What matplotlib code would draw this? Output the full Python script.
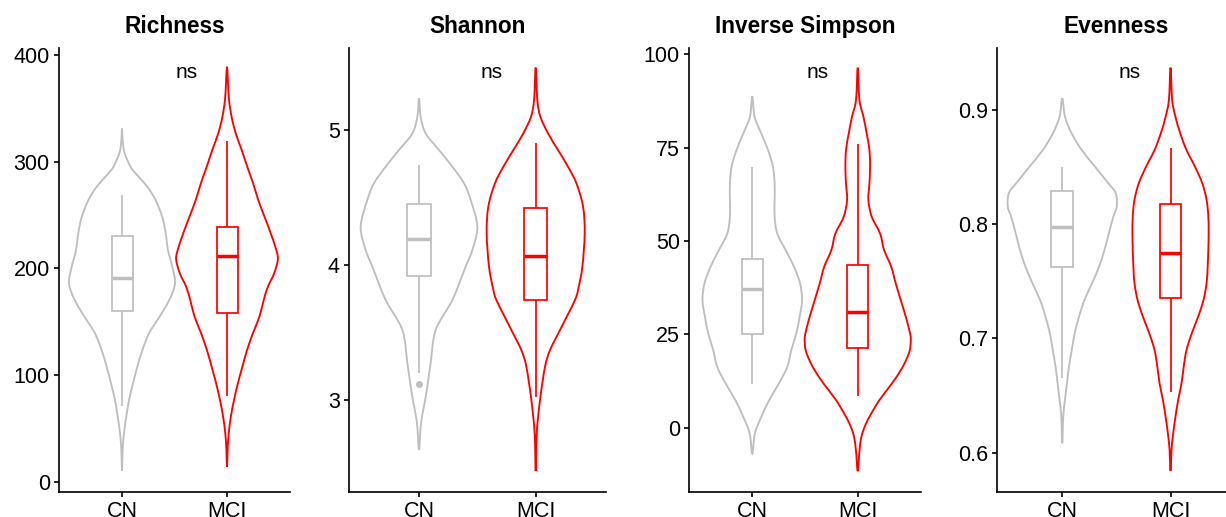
import numpy as np
import matplotlib.pyplot as plt
from matplotlib.path import Path
from matplotlib.patches import PathPatch
from matplotlib.transforms import blended_transform_factory

plt.rcParams['font.family'] = ['Liberation Sans', 'DejaVu Sans']

groups = ['CN', 'MCI']
group_colors = ['#BEBEBE', '#FF0000']
titles = ['Richness', 'Shannon', 'Inverse Simpson', 'Evenness']

# violin outlines: value levels and half widths (x units)
richness_cn_y = [331, 320, 308, 295, 289, 276.6, 264, 248, 233, 217, 201.6, 187.5,
                 176.6, 164, 151.6, 139, 123.4, 107.8, 92.2, 76.6, 61, 45.3, 29.7, 10]
richness_cn_w = [0, 0.006, 0.025, 0.083, 0.13, 0.24, 0.32, 0.384, 0.416, 0.438, 0.479, 0.505,
                 0.479, 0.416, 0.337, 0.257, 0.194, 0.146, 0.105, 0.067, 0.041, 0.019, 0.006, 0]
richness_mci_y = [389, 373, 358, 342, 326.6, 311, 295, 280, 264, 248, 233, 217, 208,
                  195, 183, 170, 154.7, 139, 123, 108, 92, 76.6, 61, 45, 30, 14]
richness_mci_w = [0, 0.01, 0.019, 0.044, 0.083, 0.14, 0.194, 0.248, 0.298, 0.359, 0.416, 0.47, 0.484,
                  0.448, 0.39, 0.349, 0.309, 0.246, 0.19, 0.147, 0.103, 0.067, 0.037, 0.016, 0.006, 0]

shannon_cn_y = [5.235, 5.099, 4.975, 4.852, 4.728, 4.605, 4.481, 4.284, 4.111, 3.988, 3.741,
                3.519, 3.274, 3.148, 3.022, 2.904, 2.8, 2.63]
shannon_cn_w = [0, 0.014, 0.057, 0.171, 0.286, 0.386, 0.443, 0.5, 0.457, 0.4, 0.286,
                0.143, 0.1, 0.079, 0.057, 0.031, 0.014, 0]
shannon_mci_y = [5.462, 5.222, 5.099, 4.975, 4.852, 4.728, 4.605, 4.432, 4.235, 3.988, 3.815,
                 3.741, 3.617, 3.494, 3.37, 3.247, 3.0, 2.753, 2.474]
shannon_mci_w = [0, 0.014, 0.04, 0.106, 0.191, 0.277, 0.349, 0.406, 0.42, 0.4, 0.363,
                 0.337, 0.266, 0.194, 0.123, 0.08, 0.037, 0.009, 0]

invsimpson_cn_y = [88.7, 83.3, 78.8, 74.4, 69.9, 65.4, 61, 56.5, 52, 47.6, 43.1, 38.7, 34.2,
                   29.7, 25.3, 20.8, 16.3, 11.9, 7.4, 2.9, -1.5, -6.9]
invsimpson_cn_w = [0, 0.022, 0.085, 0.149, 0.196, 0.212, 0.212, 0.212, 0.237, 0.316, 0.396, 0.453, 0.472,
                   0.449, 0.418, 0.37, 0.332, 0.253, 0.16, 0.085, 0.025, 0]
invsimpson_mci_y = [96.4, 87.8, 83.3, 78.8, 74.4, 69.9, 65.4, 61, 56.5, 52, 47.6, 43.1, 38.7,
                    34.2, 29.7, 25.2, 23.4, 20.8, 18.1, 15.4, 11.9, 7.4, 3.0, 0.3, -2.4, -6, -11.6]
invsimpson_mci_w = [0, 0.016, 0.054, 0.085, 0.111, 0.117, 0.111, 0.101, 0.133, 0.212, 0.25, 0.318, 0.36,
                    0.408, 0.456, 0.497, 0.503, 0.494, 0.458, 0.408, 0.325, 0.205, 0.112, 0.066, 0.035,
                    0.017, 0]

evenness_cn_y = [0.9098, 0.8938, 0.8792, 0.8647, 0.8501, 0.8355, 0.8268, 0.8151, 0.8064, 0.7918,
                 0.7773, 0.7627, 0.7481, 0.7336, 0.719, 0.7045, 0.69, 0.6753, 0.6607, 0.6462, 0.6316, 0.6083]
evenness_cn_w = [0, 0.025, 0.086, 0.179, 0.302, 0.426, 0.494, 0.503, 0.472, 0.43,
                 0.39, 0.34, 0.275, 0.205, 0.155, 0.115, 0.088, 0.062, 0.043, 0.025, 0.009, 0]
evenness_mci_y = [0.9366, 0.9084, 0.8938, 0.8792, 0.8647, 0.8502, 0.8356, 0.8211, 0.8065, 0.792,
                  0.7774, 0.7628, 0.7483, 0.7337, 0.7192, 0.7046, 0.69, 0.6755, 0.661, 0.6464,
                  0.6318, 0.6173, 0.6027, 0.5842]
evenness_mci_w = [0, 0.015, 0.045, 0.09, 0.147, 0.225, 0.293, 0.333, 0.349, 0.352,
                  0.349, 0.343, 0.333, 0.305, 0.256, 0.197, 0.148, 0.122, 0.102, 0.071,
                  0.046, 0.025, 0.009, 0]

# box stats: whisker low, q1, median, q3, whisker high
richness_cn_box = [70.9, 160.3, 190.6, 230.3, 268.8]
richness_mci_box = [80.6, 157.8, 211.6, 238.8, 319.7]
shannon_cn_box = [3.198, 3.921, 4.195, 4.454, 4.741]
shannon_mci_box = [3.02, 3.741, 4.067, 4.425, 4.901]
invsimpson_cn_box = [11.6, 25.0, 37.05, 45.2, 69.9]
invsimpson_mci_box = [8.5, 21.4, 30.9, 43.6, 75.9]
evenness_cn_box = [0.6657, 0.7627, 0.7977, 0.8291, 0.850]
evenness_mci_box = [0.6535, 0.7356, 0.775, 0.8175, 0.866]
shannon_cn_fliers = [3.116]

violins = [[(richness_cn_y, richness_cn_w), (richness_mci_y, richness_mci_w)],
           [(shannon_cn_y, shannon_cn_w), (shannon_mci_y, shannon_mci_w)],
           [(invsimpson_cn_y, invsimpson_cn_w), (invsimpson_mci_y, invsimpson_mci_w)],
           [(evenness_cn_y, evenness_cn_w), (evenness_mci_y, evenness_mci_w)]]
boxes = [[richness_cn_box, richness_mci_box],
         [shannon_cn_box, shannon_mci_box],
         [invsimpson_cn_box, invsimpson_mci_box],
         [evenness_cn_box, evenness_mci_box]]
fliers = [[[], []], [shannon_cn_fliers, []], [[], []], [[], []]]

yticks = [[0, 100, 200, 300, 400], [3, 4, 5], [0, 25, 50, 75, 100], [0.6, 0.7, 0.8, 0.9]]
yticklabels = [['0', '100', '200', '300', '400'], ['3', '4', '5'],
               ['0', '25', '50', '75', '100'], ['0.6', '0.7', '0.8', '0.9']]
ylims = [(-9.4, 406.3), (2.321, 5.605), (-17.1, 101.6), (0.566, 0.9535)]

# panel placement in pixels
W, H = 1226, 517
lefts = [59, 349, 689, 997.3]
rights = [290, 605.7, 921, 1235.5]
top_px, bottom_px = 48.3, 491.7


def violin_path(pos, y, w):
    # closed outline: down the left side, back up the right side,
    # drawn as a smooth bezier through the read points
    y = np.asarray(y, float)
    w = np.asarray(w, float)
    xs = np.concatenate([pos - w, (pos + w)[::-1][1:-1]])
    ys = np.concatenate([y, y[::-1][1:-1]])
    pts = np.column_stack([xs, ys])
    n = len(pts)
    verts = [pts[0]]
    codes = [Path.MOVETO]
    for k in range(n):
        p0 = pts[k - 1]
        p1 = pts[k]
        p2 = pts[(k + 1) % n]
        p3 = pts[(k + 2) % n]
        verts += [p1 + (p2 - p0) / 6, p2 - (p3 - p1) / 6, p2]
        codes += [Path.CURVE4] * 3
    return Path(verts, codes)


fig = plt.figure(figsize=(W / 100, H / 100), dpi=100)

for i in range(4):
    ax = fig.add_axes([lefts[i] / W, (H - bottom_px) / H,
                       (rights[i] - lefts[i]) / W, (bottom_px - top_px) / H])
    for j, g in enumerate(groups):
        c = group_colors[j]
        pos = j + 1
        vy, vw = violins[i][j]
        ax.add_patch(PathPatch(violin_path(pos, vy, vw), facecolor='white',
                               edgecolor=c, lw=1.35, zorder=1))
        b = boxes[i][j]
        stats = dict(whislo=b[0], q1=b[1], med=b[2], q3=b[3], whishi=b[4], fliers=fliers[i][j])
        ax.bxp([stats], positions=[pos], widths=0.2, showcaps=False, patch_artist=True,
               manage_ticks=False,
               boxprops=dict(facecolor='white', edgecolor=c, lw=1.25),
               whiskerprops=dict(color=c, lw=1.25, solid_capstyle='butt'),
               medianprops=dict(color=c, lw=2.5, solid_capstyle='butt'),
               flierprops=dict(marker='o', markerfacecolor=c, markeredgecolor='none',
                               markersize=5),
               zorder=2)

    ax.set_xlim(0.4, 2.6)
    ax.set_ylim(*ylims[i])
    ax.set_xticks([1, 2])
    ax.set_xticklabels(groups)
    ax.set_yticks(yticks[i])
    ax.set_yticklabels(yticklabels[i])
    for s in ['top', 'right']:
        ax.spines[s].set_visible(False)
    for s in ['left', 'bottom']:
        ax.spines[s].set_linewidth(1.2)
    ax.tick_params(direction='out', length=3.6, width=1.2, labelsize=15.5,
                   colors='black', pad=3)
    ax.set_title(titles[i], fontsize=16.3, fontweight='bold', pad=10.8)

    trans = blended_transform_factory(ax.transData, ax.transAxes)
    ax.text(1.62, 0.932, 'ns', transform=trans, ha='center', va='baseline', fontsize=15)

fig.savefig('out.png', dpi=100)
